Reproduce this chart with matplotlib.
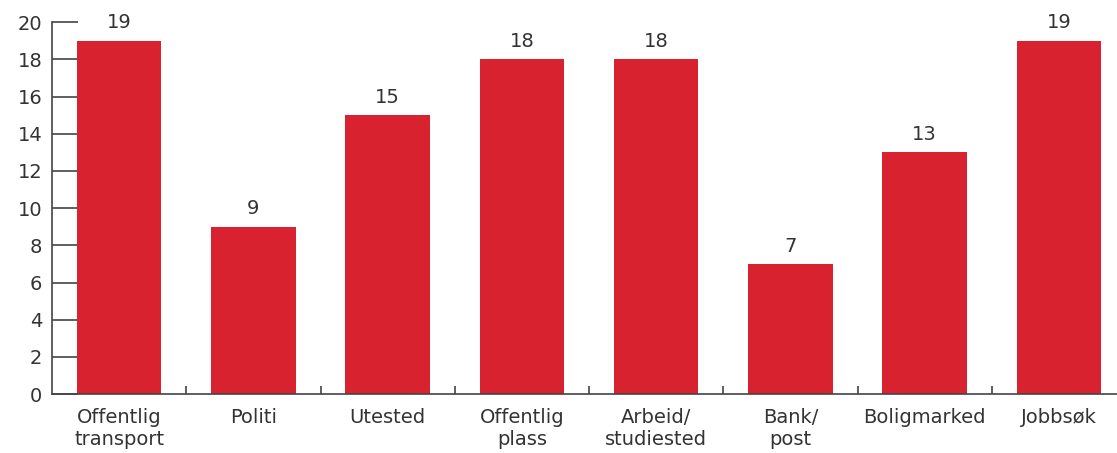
import matplotlib.pyplot as plt
import numpy as np

categories = ['Offentlig\ntransport', 'Politi', 'Utested', 'Offentlig\nplass',
              'Arbeid/\nstudiested', 'Bank/\npost', 'Boligmarked', 'Jobbsøk']
values = [19, 9, 15, 18, 18, 7, 13, 19]
yticks = list(range(0, 21, 2))

bar_color = '#D9222F'
text_color = '#333333'
axis_color = '#444444'

fig = plt.figure(figsize=(11.17, 4.53), dpi=100)
ax = fig.add_axes([0.0466, 0.130, 0.9615, 0.821])

x = np.arange(len(categories))
bars = ax.bar(x, values, width=0.63, color=bar_color, zorder=2)

for xi, v in zip(x, values):
    ax.annotate(str(v), (xi, v), xytext=(0, 6), textcoords='offset points',
                ha='center', va='bottom', fontsize=14, color=text_color)

ax.set_xlim(-0.5, len(categories) - 0.5)
ax.set_ylim(0, 20)
ax.set_yticks(yticks)
ax.tick_params(axis='y', direction='in', length=19, width=1.2, colors=axis_color,
               labelcolor=text_color, labelsize=14, pad=7)

ax.set_xticks(x)
ax.set_xticklabels(categories, fontsize=14, color=text_color, linespacing=1.2)
ax.tick_params(axis='x', which='major', length=0, pad=10)
ax.set_xticks(np.arange(0.5, len(categories) - 0.5, 1), minor=True)
ax.tick_params(axis='x', which='minor', direction='in', length=6, width=1.2,
               colors=axis_color)

for side in ['top', 'right']:
    ax.spines[side].set_visible(False)
for side in ['left', 'bottom']:
    ax.spines[side].set_color(axis_color)
    ax.spines[side].set_linewidth(1.2)

fig.savefig('out.png', dpi=100)
